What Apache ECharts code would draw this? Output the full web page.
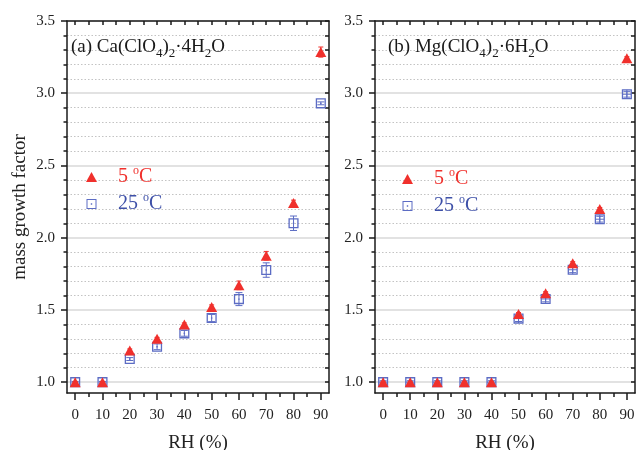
<!DOCTYPE html>
<html>
<head>
<meta charset="utf-8">
<title>Mass growth factor of perchlorate hydrates</title>
<script src="https://cdn.jsdelivr.net/npm/echarts@6/dist/echarts.min.js"></script>
<style>
  html, body { margin: 0; padding: 0; background: #ffffff; }
  #chart { width: 636px; height: 450px; }
</style>
</head>
<body>
<div id="chart"></div>
<script>
// Relative humidity steps (%)
const rh = [0, 10, 20, 30, 40, 50, 60, 70, 80, 90];

// (a) Ca(ClO4)2·4H2O
const caCold = [1.00, 1.00, 1.22, 1.30, 1.40, 1.52, 1.67, 1.875, 2.24, 3.285];
const caColdErr = [0.005, 0.005, 0.01, 0.01, 0.01, 0.015, 0.03, 0.03, 0.02, 0.035];
const caWarm = [1.00, 1.00, 1.16, 1.245, 1.338, 1.444, 1.575, 1.776, 2.10, 2.93];
const caWarmErr = [0.005, 0.005, 0.01, 0.02, 0.02, 0.025, 0.045, 0.05, 0.05, 0.01];

// (b) Mg(ClO4)2·6H2O
const mgCold = [1.00, 1.00, 1.00, 1.00, 1.00, 1.472, 1.616, 1.824, 2.199, 3.243];
const mgColdErr = [0.005, 0.005, 0.005, 0.005, 0.005, 0.01, 0.01, 0.01, 0.01, 0.01];
const mgWarm = [1.00, 1.00, 1.00, 1.00, 1.00, 1.44, 1.576, 1.778, 2.128, 2.993];
const mgWarmErr = [0.01, 0.01, 0.01, 0.01, 0.01, 0.02, 0.02, 0.02, 0.02, 0.02];

// Axis ranges and tick positions
const xRange = [-3, 93];
const yRange = [0.925, 3.5];
const xMajorTicks = [0, 10, 20, 30, 40, 50, 60, 70, 80, 90];
const xMinorTicks = [5, 15, 25, 35, 45, 55, 65, 75, 85];
const xTopTicks = [0, 5, 10, 15, 20, 25, 30, 35, 40, 45, 50, 55, 60, 65, 70, 75, 80, 85, 90];
const yMajorTicks = [1.0, 1.5, 2.0, 2.5, 3.0, 3.5];
const yMinorTicks = [1.1, 1.2, 1.3, 1.4, 1.6, 1.7, 1.8, 1.9, 2.1, 2.2, 2.3, 2.4,
                     2.6, 2.7, 2.8, 2.9, 3.1, 3.2, 3.3, 3.4];
const yRightTicks = [1.0, 1.1, 1.2, 1.3, 1.4, 1.5, 1.6, 1.7, 1.8, 1.9, 2.0, 2.1, 2.2, 2.3,
                     2.4, 2.5, 2.6, 2.7, 2.8, 2.9, 3.0, 3.1, 3.2, 3.3, 3.4, 3.5];

// Labels
const panelTitles = ['(a) Ca(ClO{s|4}){s|2}·4H{s|2}O', '(b) Mg(ClO{s|4}){s|2}·6H{s|2}O'];
const seriesNames = ['5 °C', '25 °C'];
const xName = 'RH (%)';
const yName = 'mass growth factor';

const FONT = 'Liberation Serif';
const INK = '#1a1a1a';
const RED = '#f0302c';
const BLUE = '#5c6cc4';
const BLUE_TEXT = '#3e50a8';

const grids = [
  { left: 67, top: 21, width: 262, height: 372, containLabel: false, outerBoundsMode: 'none' },
  { left: 375, top: 21, width: 260, height: 372, containLabel: false, outerBoundsMode: 'none' }
];

function xAxesFor(g) {
  const base = { type: 'value', gridIndex: g, min: xRange[0], max: xRange[1], splitLine: { show: false } };
  const line = { show: true, onZero: false, lineStyle: { color: INK, width: 1.5 } };
  return [
    Object.assign({}, base, {
      position: 'bottom',
      axisLine: line,
      axisTick: { show: true, inside: false, length: 7, customValues: xMajorTicks, lineStyle: { color: INK, width: 1.5 } },
      axisLabel: { show: true, customValues: xMajorTicks, margin: 15, fontFamily: FONT, fontSize: 15, color: '#222' },
      name: xName, nameLocation: 'middle', nameGap: 41,
      nameTextStyle: { fontFamily: FONT, fontSize: 19, color: '#222' }
    }),
    Object.assign({}, base, {
      position: 'bottom',
      axisLine: { show: false, onZero: false },
      axisTick: { show: true, inside: false, length: 4, customValues: xMinorTicks, lineStyle: { color: INK, width: 1.5 } },
      axisLabel: { show: false }
    }),
    Object.assign({}, base, {
      position: 'top',
      axisLine: line,
      axisTick: { show: true, inside: true, length: 4, customValues: xTopTicks, lineStyle: { color: INK, width: 1.5 } },
      axisLabel: { show: false }
    })
  ];
}

function yAxesFor(g) {
  const base = { type: 'value', gridIndex: g, min: yRange[0], max: yRange[1] };
  const line = { show: true, onZero: false, lineStyle: { color: INK, width: 1.5 } };
  const axes = [
    Object.assign({}, base, {
      position: 'left',
      axisLine: line,
      axisTick: { show: true, inside: false, length: 6, customValues: yMajorTicks, lineStyle: { color: INK, width: 1.5 } },
      axisLabel: { show: true, customValues: yMajorTicks, margin: 12, fontFamily: FONT, fontSize: 15, color: '#222',
                   formatter: v => v.toFixed(1) },
      splitLine: { show: true, lineStyle: { color: '#d8d8d8', width: 1.5 } }
    }),
    Object.assign({}, base, {
      position: 'left',
      axisLine: { show: false, onZero: false },
      axisTick: { show: true, inside: false, length: 3.5, customValues: yMinorTicks, lineStyle: { color: INK, width: 1.5 } },
      axisLabel: { show: false },
      splitLine: { show: true, lineStyle: { color: '#c3c3c3', width: 1, type: [1.5, 2] } }
    }),
    Object.assign({}, base, {
      position: 'right',
      axisLine: line,
      axisTick: { show: true, inside: true, length: 4, customValues: yRightTicks, lineStyle: { color: INK, width: 1.5 } },
      axisLabel: { show: false },
      splitLine: { show: false }
    })
  ];
  if (g === 0) {
    axes[0].name = yName;
    axes[0].nameLocation = 'middle';
    axes[0].nameGap = 37;
    axes[0].nameTextStyle = { fontFamily: FONT, fontSize: 19, color: '#222' };
  }
  return axes;
}

// Error bar with caps drawn around each point
function errorBarItem(color, capHalf) {
  return function (params, api) {
    const x = api.value(0), y = api.value(1), e = api.value(2);
    const hi = api.coord([x, y + e]);
    const lo = api.coord([x, y - e]);
    const st = { stroke: color, lineWidth: 1 };
    return {
      type: 'group',
      children: [
        { type: 'line', shape: { x1: hi[0], y1: hi[1], x2: lo[0], y2: lo[1] }, style: st },
        { type: 'line', shape: { x1: hi[0] - capHalf, y1: hi[1], x2: hi[0] + capHalf, y2: hi[1] }, style: st },
        { type: 'line', shape: { x1: lo[0] - capHalf, y1: lo[1], x2: lo[0] + capHalf, y2: lo[1] }, style: st }
      ]
    };
  };
}

// Hollow square marker: centre dot (plain) or inner cross (plus)
function squareItem(withCross) {
  return function (params, api) {
    const c = api.coord([api.value(0), api.value(1)]);
    const h = 4.4;
    const st = { stroke: BLUE, lineWidth: 1.3, fill: 'transparent' };
    const children = [
      { type: 'rect', shape: { x: c[0] - h, y: c[1] - h, width: 2 * h, height: 2 * h }, style: st }
    ];
    if (withCross) {
      children.push({ type: 'line', shape: { x1: c[0] - h, y1: c[1], x2: c[0] + h, y2: c[1] }, style: { stroke: BLUE, lineWidth: 1 } });
      children.push({ type: 'line', shape: { x1: c[0], y1: c[1] - h, x2: c[0], y2: c[1] + h }, style: { stroke: BLUE, lineWidth: 1 } });
    } else {
      children.push({ type: 'rect', shape: { x: c[0] - 0.7, y: c[1] - 0.7, width: 1.4, height: 1.4 }, style: { fill: BLUE } });
    }
    return { type: 'group', children: children };
  };
}

function triples(xs, ys, es) {
  return xs.map((x, i) => [x, ys[i], es[i]]);
}

function panelSeries(g, cold, coldErr, warm, warmErr, withCross) {
  const xi = g * 3, yi = g * 3;
  return [
    { type: 'custom', xAxisIndex: xi, yAxisIndex: yi, z: 2, silent: true,
      renderItem: errorBarItem(BLUE, 3.5), data: triples(rh, warm, warmErr) },
    { type: 'custom', name: seriesNames[1], xAxisIndex: xi, yAxisIndex: yi, z: 3,
      itemStyle: { color: BLUE },
      renderItem: squareItem(withCross), data: triples(rh, warm, warmErr) },
    { type: 'custom', xAxisIndex: xi, yAxisIndex: yi, z: 4, silent: true,
      renderItem: errorBarItem(RED, 2.5), data: triples(rh, cold, coldErr) },
    { type: 'scatter', name: seriesNames[0], xAxisIndex: xi, yAxisIndex: yi, z: 5,
      symbol: 'triangle', symbolSize: [11, 10],
      itemStyle: { color: RED, opacity: 1 },
      data: rh.map((x, i) => [x, cold[i]]) }
  ];
}

const SQUARE_ICON = 'path://M0,0H10V10H0Z M1,1V9H9V1Z M4.3,4.3H5.7V5.7H4.3Z';

function legendItemStyle(color) {
  return {
    color: color, fontFamily: FONT, fontSize: 20, lineHeight: 24, padding: [0, 0, 0, 16],
    rich: { sup: { color: color, fontFamily: FONT, fontSize: 12, lineHeight: 12, verticalAlign: 'top' } }
  };
}

function legendFor(left, top) {
  return {
    orient: 'vertical', left: left, top: top, padding: 0, itemGap: 3,
    itemWidth: 11, itemHeight: 10, selectedMode: false,
    formatter: name => name.replace('°', '{sup|o}'),
    data: [
      { name: seriesNames[0], icon: 'triangle', textStyle: legendItemStyle(RED) },
      { name: seriesNames[1], icon: SQUARE_ICON, textStyle: legendItemStyle(BLUE_TEXT) }
    ]
  };
}

function titleFor(i, left) {
  return {
    text: panelTitles[i], left: left, top: 35, padding: 0,
    textStyle: {
      fontFamily: FONT, fontSize: 19, fontWeight: 'normal', color: INK, lineHeight: 25,
      rich: { s: { fontFamily: FONT, fontSize: 13, lineHeight: 13, color: INK, verticalAlign: 'bottom' } }
    }
  };
}

const chart = echarts.init(document.getElementById('chart'), null, { renderer: 'canvas' });
chart.setOption({
  backgroundColor: '#ffffff',
  animation: false,
  title: [titleFor(0, 71), titleFor(1, 388)],
  legend: [legendFor(86, 165), legendFor(402, 167)],
  grid: grids,
  xAxis: xAxesFor(0).concat(xAxesFor(1)),
  yAxis: yAxesFor(0).concat(yAxesFor(1)),
  series: panelSeries(0, caCold, caColdErr, caWarm, caWarmErr, false)
    .concat(panelSeries(1, mgCold, mgColdErr, mgWarm, mgWarmErr, true))
});
</script>
</body>
</html>
